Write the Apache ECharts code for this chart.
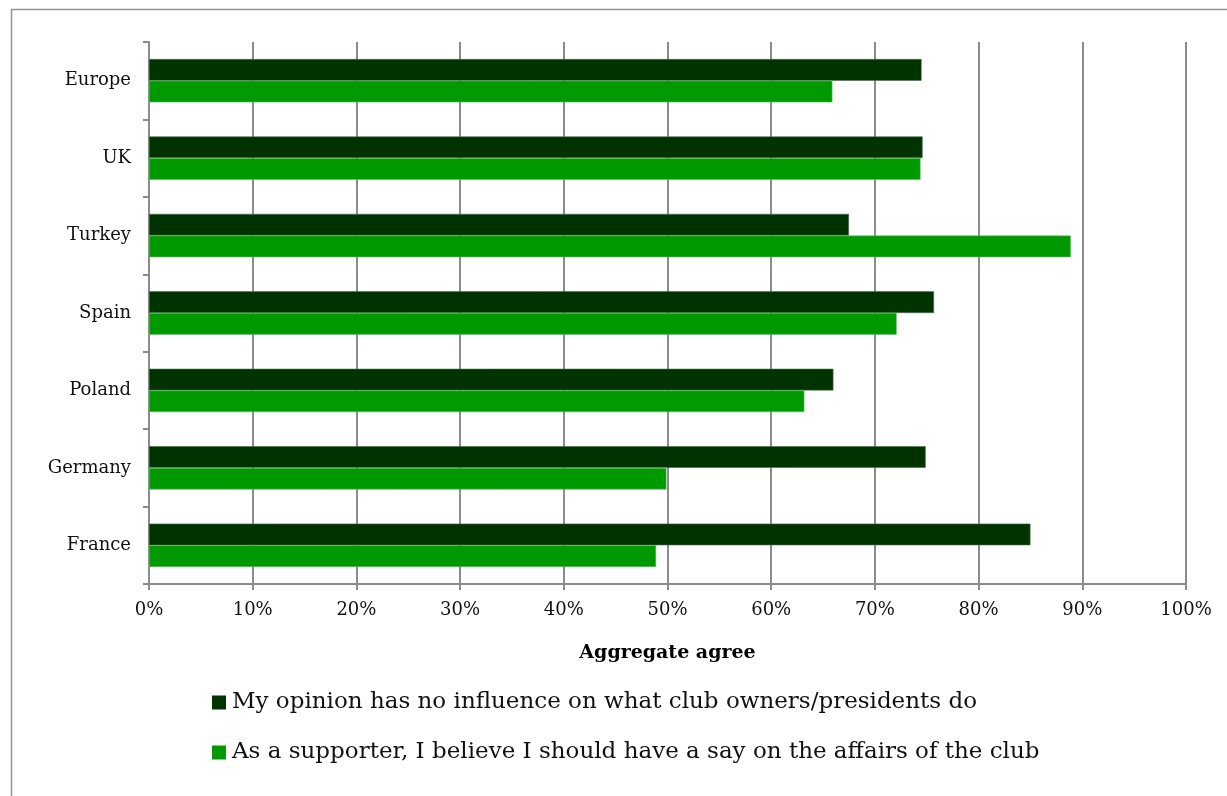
<!DOCTYPE html>
<html>
<head>
<meta charset="utf-8">
<script src="https://cdn.jsdelivr.net/npm/echarts@6/dist/echarts.min.js"></script>
<style>
  html, body { margin: 0; padding: 0; background: #fff; }
  #chart { width: 1227px; height: 796px; }
</style>
</head>
<body>
<div id="chart"></div>
<script>
// Countries, listed bottom to top along the category axis
const countries = ['France', 'Germany', 'Poland', 'Spain', 'Turkey', 'UK', 'Europe'];

// Share agreeing (%) with each statement, same order as countries
const noInfluence = [85.0, 74.9, 66.0, 75.7, 67.5, 74.6, 74.5];
const shouldHaveSay = [48.9, 49.9, 63.2, 72.1, 88.9, 74.4, 65.9];

const seriesNames = [
  'My opinion has no influence on what club owners/presidents do',
  'As a supporter, I believe I should have a say on the affairs of the club'
];

const FONT = '"DejaVu Serif", "Liberation Serif", serif';
const GRID_GREY = '#8c8c8c';

const chart = echarts.init(document.getElementById('chart'), null, { renderer: 'canvas' });

chart.setOption({
  backgroundColor: '#ffffff',
  animation: false,
  textStyle: { fontFamily: FONT, color: '#000' },
  graphic: [{
    type: 'rect',
    left: 9, top: 7,
    shape: { width: 1240, height: 820 },
    style: { fill: 'none', stroke: '#959595', lineWidth: 1.5 },
    z: -1
  }],
  grid: { left: 149, right: 41, top: 42, bottom: 212, containLabel: false },
  legend: {
    orient: 'vertical',
    left: 207,
    top: 686,
    itemWidth: 14,
    itemHeight: 14,
    itemGap: 27,
    icon: 'rect',
    itemStyle: { borderWidth: 0 },
    textStyle: { fontFamily: FONT, fontSize: 23, color: '#111', padding: [0, 0, 0, 1] },
    data: seriesNames
  },
  xAxis: {
    type: 'value',
    min: 0, max: 100, interval: 10,
    name: 'Aggregate agree',
    nameLocation: 'middle',
    nameGap: 60,
    nameTextStyle: { fontFamily: FONT, fontSize: 19, fontWeight: 'bold', color: '#000' },
    axisLine: { show: true, lineStyle: { color: GRID_GREY, width: 2 } },
    axisTick: { show: true, length: 6, lineStyle: { color: GRID_GREY, width: 2 } },
    axisLabel: { formatter: '{value}%', margin: 17, fontFamily: FONT, fontSize: 18, color: '#111' },
    splitLine: { show: true, lineStyle: { color: GRID_GREY, width: 2 } }
  },
  yAxis: {
    type: 'category',
    data: countries,
    axisLine: { show: true, lineStyle: { color: GRID_GREY, width: 2 } },
    axisTick: { show: true, length: 6, alignWithLabel: false, lineStyle: { color: GRID_GREY, width: 2 } },
    axisLabel: { margin: 18, fontFamily: FONT, fontSize: 18, color: '#111' },
    splitLine: { show: false }
  },
  series: [
    {
      name: seriesNames[0],
      type: 'bar',
      data: noInfluence,
      barGap: '0%',
      barCategoryGap: '44%',
      itemStyle: { color: '#003300', borderColor: '#4d6b4d', borderWidth: 0.6 }
    },
    {
      name: seriesNames[1],
      type: 'bar',
      data: shouldHaveSay,
      barGap: '0%',
      barCategoryGap: '44%',
      itemStyle: { color: '#009900', borderColor: '#5cbf5c', borderWidth: 0.6 }
    }
  ]
});
</script>
</body>
</html>
